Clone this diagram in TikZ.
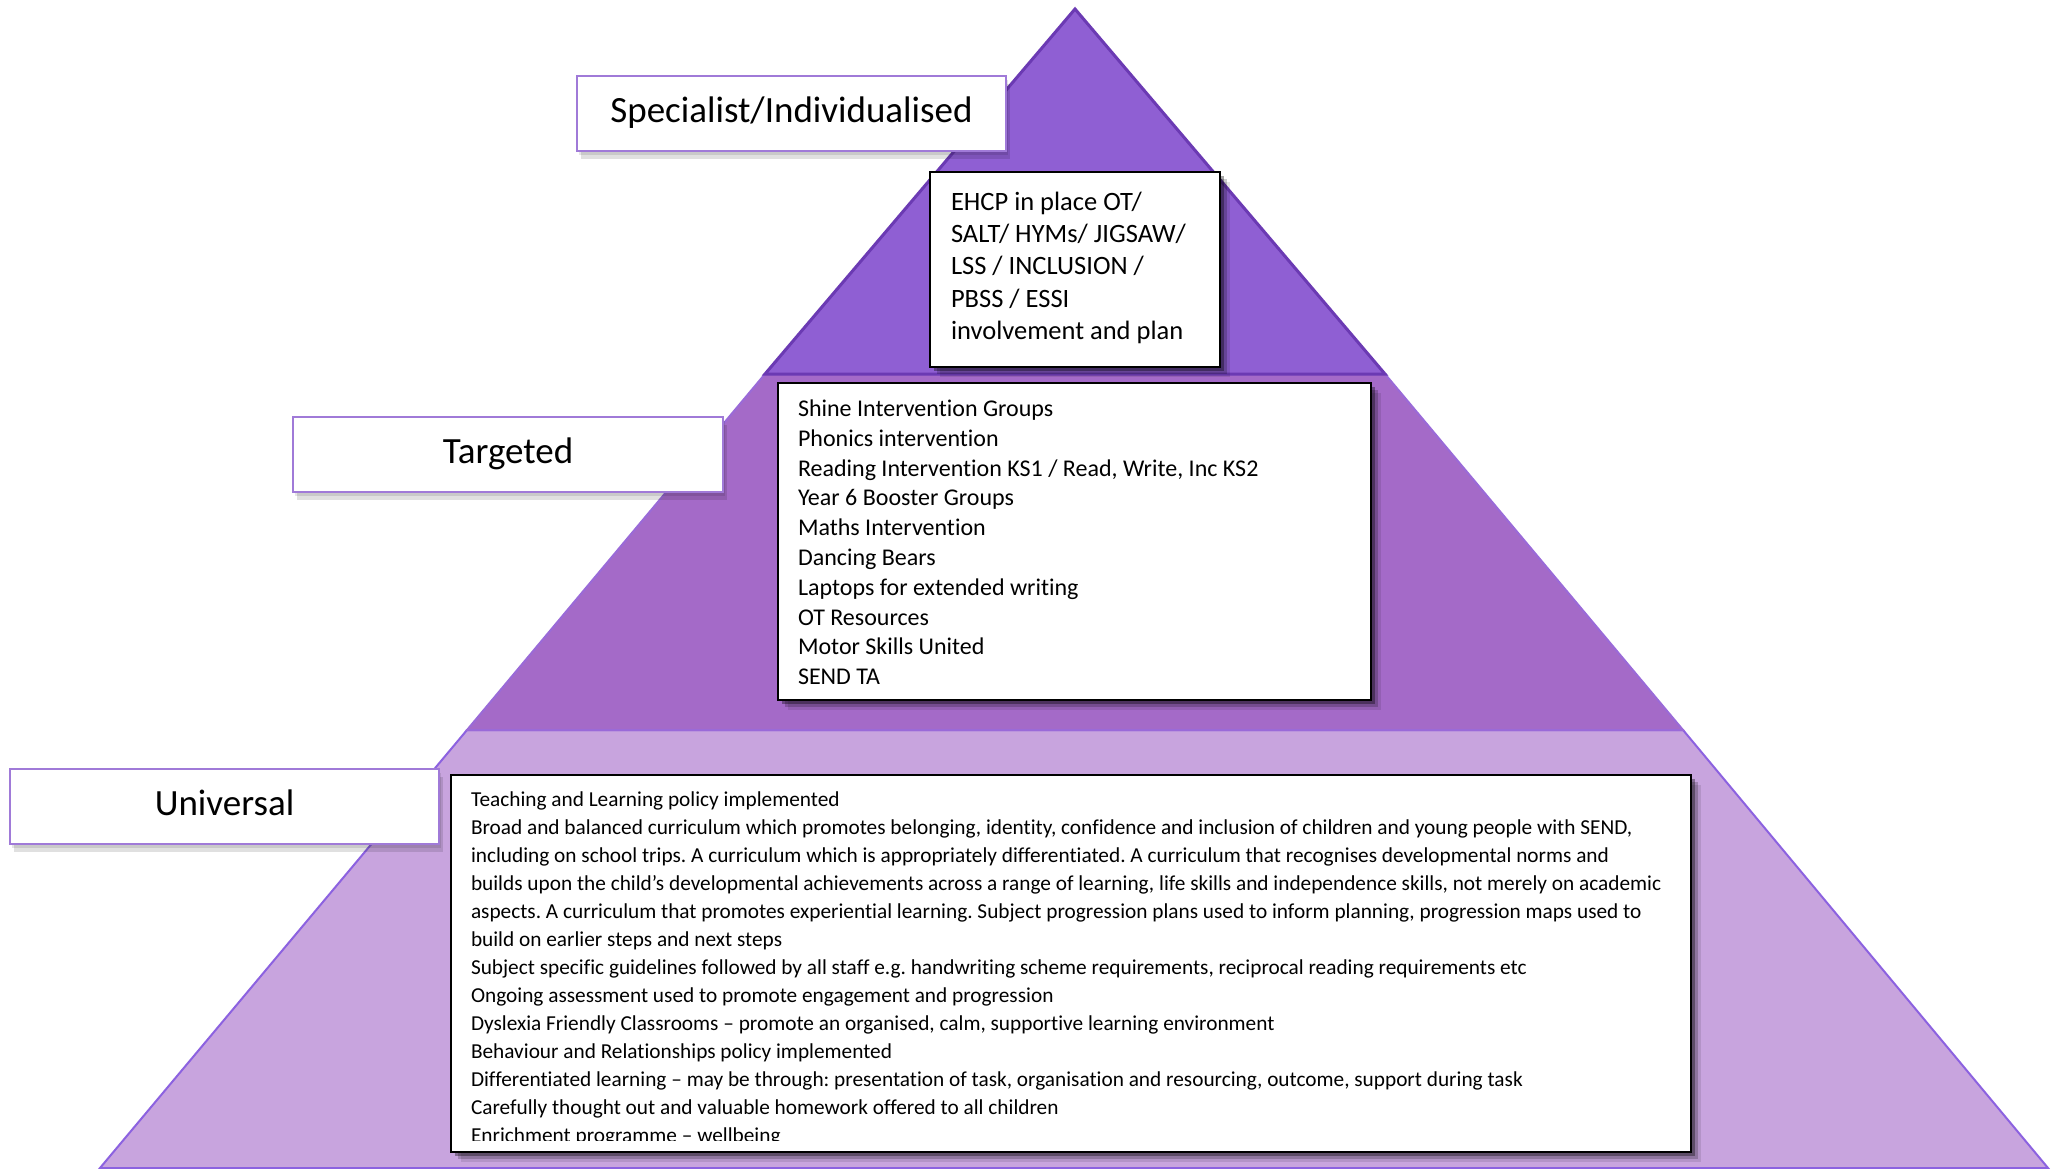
\documentclass[tikz,border=0pt]{standalone}
\usepackage{fontspec}
\setmainfont{Carlito}[Ligatures={NoCommon,NoRare}]
\usetikzlibrary{shadows}
\definecolor{tiertop}{HTML}{8F5FD3}
\definecolor{tiertopline}{HTML}{6B3AB3}
\definecolor{tiermid}{HTML}{A46AC8}
\definecolor{tiermidline}{HTML}{9A6AD8}
\definecolor{tierbot}{HTML}{C8A4DE}
\definecolor{tierbotline}{HTML}{8C62E0}
\definecolor{labelline}{HTML}{A07AD8}
\frenchspacing
\begin{document}
\begin{tikzpicture}[x=1pt,y=-1pt,
  labelbox/.style={draw=labelline, line width=2.5pt, fill=white, inner sep=0pt, outer sep=0pt,
    anchor=north west, font=\fontsize{37}{44}\selectfont,
    text height=27.75pt, text depth=10.75pt,
    drop shadow={shadow xshift=2pt, shadow yshift=-4pt, fill=black, opacity=0.10},
    drop shadow={shadow xshift=4pt, shadow yshift=-8pt, fill=black, opacity=0.12}},
  textbox/.style={draw=black, line width=2pt, fill=white, inner sep=0pt, outer sep=0pt,
    anchor=north west,
    drop shadow={shadow xshift=10pt, shadow yshift=-10pt, fill=black, opacity=0.10},
    drop shadow={shadow xshift=7pt, shadow yshift=-7pt, fill=black, opacity=0.20},
    drop shadow={shadow xshift=4pt, shadow yshift=-4pt, fill=black, opacity=0.35}},
  boxtext/.style={anchor=base west, inner sep=0pt, outer sep=0pt}
]
\useasboundingbox (0,0) rectangle (2060,1168);
\fill[white] (0,0) rectangle (2060,1168);
% tiers
\filldraw[fill=tierbot, draw=tierbotline, line width=2pt]
  (467,730) -- (1683,730) -- (2048,1168) -- (100,1168) -- cycle;
\filldraw[fill=tiermid, draw=tiermidline, line width=2pt]
  (765,374) -- (1385,374) -- (1683,730) -- (467,730) -- cycle;
\filldraw[fill=tiertop, draw=tiertopline, line width=3pt, line join=miter]
  (1075,9) -- (1385,374) -- (765,374) -- cycle;
% label boxes
\node[labelbox, minimum width=429pt, minimum height=75pt] (spec) at (577,76) {Specialist/Individualised};
\node[labelbox, minimum width=430pt, minimum height=75pt] (targ) at (293,417) {Targeted};
\node[labelbox, minimum width=429pt, minimum height=75pt] (univ) at (10,769) {Universal};
% text boxes
\node[textbox, minimum width=290pt, minimum height=195pt] (ehcp) at (930,172) {};
\node[textbox, minimum width=593pt, minimum height=317pt] (mid) at (778,383) {};
\node[textbox, minimum width=1240pt, minimum height=377pt] (bot) at (451,775) {};
\node[boxtext] (ehcptext) at (951,210.5) {\fontsize{26.5}{32.2}\selectfont
  \begin{tabular}[t]{@{}l@{}}
  EHCP in place OT/\\
  SALT/ HYMs/ JIGSAW/\\
  LSS / INCLUSION /\\
  PBSS / ESSI\\
  involvement and plan
  \end{tabular}};
\node[boxtext] (midtext) at (798,416.5) {\fontsize{24}{29.8}\selectfont
  \begin{tabular}[t]{@{}l@{}}
  Shine Intervention Groups\\
  Phonics intervention\\
  Reading Intervention KS1 / Read, Write, Inc KS2\\
  Year 6 Booster Groups\\
  Maths Intervention\\
  Dancing Bears\\
  Laptops for extended writing\\
  OT Resources\\
  Motor Skills United\\
  SEND TA
  \end{tabular}};
\begin{scope}
\clip (453,777) rectangle (1689,1140);
\node[boxtext] (bottext) at (471,806) {\fontsize{21.3}{28}\selectfont
  \begin{tabular}[t]{@{}l@{}}
  Teaching and Learning policy implemented\\
  Broad and balanced curriculum which promotes belonging, identity, confidence and inclusion of children and young people with SEND,\\
  including on school trips. A curriculum which is appropriately differentiated. A curriculum that recognises developmental norms and\\
  builds upon the child’s developmental achievements across a range of learning, life skills and independence skills, not merely on academic\\
  aspects. A curriculum that promotes experiential learning. Subject progression plans used to inform planning, progression maps used to\\
  build on earlier steps and next steps\\
  Subject specific guidelines followed by all staff e.g. handwriting scheme requirements, reciprocal reading requirements etc\\
  Ongoing assessment used to promote engagement and progression\\
  Dyslexia Friendly Classrooms – promote an organised, calm, supportive learning environment\\
  Behaviour and Relationships policy implemented\\
  Differentiated learning – may be through: presentation of task, organisation and resourcing, outcome, support during task\\
  Carefully thought out and valuable homework offered to all children\\
  Enrichment programme – wellbeing
  \end{tabular}};
\end{scope}
\end{tikzpicture}
\end{document}
